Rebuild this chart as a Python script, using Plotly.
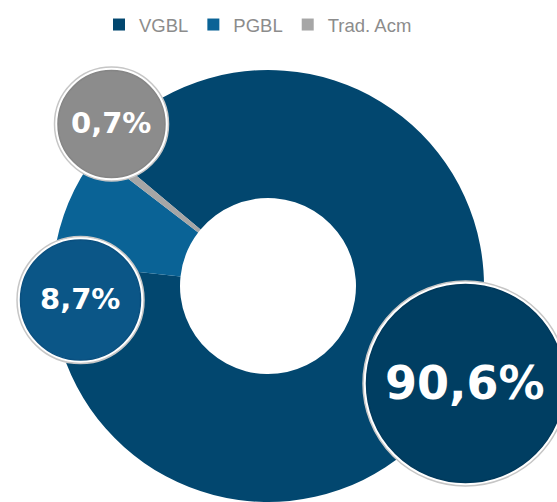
import plotly.graph_objects as go

# data
labels = ["VGBL", "PGBL", "Trad. Acm"]
values = [90.6, 8.7, 0.7]
colors = ["#02476f", "#0a6396", "#a6a6a6"]

W, H = 557, 502

# donut geometry (pixels)
CX, CY, R, R_HOLE = 268, 286, 216, 88

# callout bubbles, keyed by label (pixel positions)
BUBBLES = {
    "Trad. Acm": dict(cx=111.5, cy=124, r=57, fill="#8c8c8c", rim="#858585", size=29),
    "PGBL": dict(cx=80.5, cy=300, r=63.5, fill="#0b5687", rim="#0a5080", size=29),
    "VGBL": dict(cx=465.5, cy=383.5, r=102.5, fill="#003e62", rim="#00395b", size=46),
}


def _pct(v: float) -> str:
    return f"{v:.1f}".replace(".", ",") + "%"


fig = go.Figure()
fig.add_trace(go.Pie(
    labels=labels, values=values,
    marker=dict(colors=colors, line=dict(width=0)),
    hole=R_HOLE / R, sort=False, direction="clockwise", rotation=-50,
    textinfo="none", hoverinfo="label+percent",
    domain=dict(x=[(CX - R) / W, (CX + R) / W], y=[(H - CY - R) / H, (H - CY + R) / H]),
))

shapes, annotations = [], []
for lab, v in zip(labels, values):
    b = BUBBLES[lab]
    cx, cy, r = b["cx"], b["cy"], b["r"]
    shapes.append(dict(
        type="circle", xref="x", yref="y", layer="above",
        x0=cx - r, x1=cx + r, y0=cy - r, y1=cy + r,
        fillcolor="white", line=dict(color="#c6c6c6", width=1.5),
    ))
    ri = r - 3.5
    shapes.append(dict(
        type="circle", xref="x", yref="y", layer="above",
        x0=cx - ri, x1=cx + ri, y0=cy - ri, y1=cy + ri,
        fillcolor=b["fill"], line=dict(color=b["rim"], width=1.5),
    ))
    annotations.append(dict(
        x=cx - 1, y=cy - 1, xref="x", yref="y", text=_pct(v), showarrow=False,
        xanchor="center", yanchor="middle",
        font=dict(family="DejaVu Sans", size=b["size"], color="white", weight="bold"),
    ))

fig.update_layout(
    width=W, height=H,
    margin=dict(l=0, r=0, t=0, b=0),
    paper_bgcolor="white", plot_bgcolor="white",
    xaxis=dict(range=[0, W], visible=False, fixedrange=True),
    yaxis=dict(range=[H, 0], visible=False, fixedrange=True),
    shapes=shapes, annotations=annotations,
    showlegend=True,
    legend=dict(
        orientation="h", x=99 / W, xanchor="left", y=1 - 6 / H, yanchor="top",
        font=dict(family="Liberation Sans", size=18.5, color="#8c8c8c"),
        traceorder="normal",
    ),
)

# drop the default 8px body margin so the figure sits at the window's corner
fig.write_html(
    "out.html",
    config={"displayModeBar": False},
    post_script="document.body.style.margin='0';",
)
